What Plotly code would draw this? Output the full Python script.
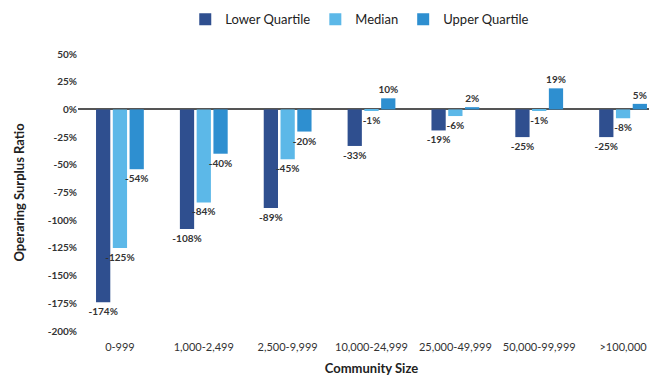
import plotly.graph_objects as go

categories = ["0-999", "1,000-2,499", "2,500-9,999", "10,000-24,999",
              "25,000-49,999", "50,000-99,999", ">100,000"]
lower_quartile = [-174, -108, -89, -33, -19, -25, -25]
median = [-125, -84, -45, -1, -6, -1, -8]
upper_quartile = [-54, -40, -20, 10, 2, 19, 5]
y_ticks = [50, 25, 0, -25, -50, -75, -100, -125, -150, -175, -200]

series = [
    ("Lower Quartile", lower_quartile, "#2f4f8f"),
    ("Median", median, "#5cb8e8"),
    ("Upper Quartile", upper_quartile, "#2e8fd0"),
]

FONT = "Lato"
fig = go.Figure()
for name, vals, color in series:
    fig.add_trace(go.Bar(
        name=name, x=categories, y=vals, marker_color=color,
        marker_line_width=0,
        text=[f"{v}%" for v in vals], textposition="outside",
        constraintext="none", cliponaxis=False,
        textfont=dict(family=FONT, size=10, color="#333333", weight="bold"),
    ))

fig.update_layout(
    width=657, height=379,
    margin=dict(l=70, r=0, t=46, b=56, autoexpand=False),
    paper_bgcolor="white", plot_bgcolor="white",
    barmode="group", bargap=0.4, bargroupgap=0.15,
    font=dict(family=FONT, color="#333333"),
    legend=dict(orientation="h", x=0.48, xanchor="center", y=0.97,
                yref="container", yanchor="middle",
                font=dict(family=FONT, size=13, color="#222222"),
                itemwidth=30, tracegroupgap=0, traceorder="normal"),
    showlegend=True,
)
fig.update_yaxes(
    range=[-200, 50], tickvals=y_ticks,
    ticktext=[f"{v}%" for v in y_ticks],
    showgrid=False, zeroline=True, zerolinecolor="#555555", zerolinewidth=1.5,
    showline=False, ticks="",
    tickfont=dict(family=FONT, size=10, color="#333333", weight="bold"),
    title=dict(text="Operaring Surplus Ratio",
               font=dict(family=FONT, size=13, color="#222222", weight="bold"),
               standoff=20),
)
fig.update_xaxes(
    showgrid=False, showline=False, ticks="",
    ticklabelstandoff=8,
    tickfont=dict(family=FONT, size=11, color="#333333"),
    title=dict(text="Community Size",
               font=dict(family=FONT, size=13, color="#222222", weight="bold"),
               standoff=11),
)

fig.write_html("out.html")
